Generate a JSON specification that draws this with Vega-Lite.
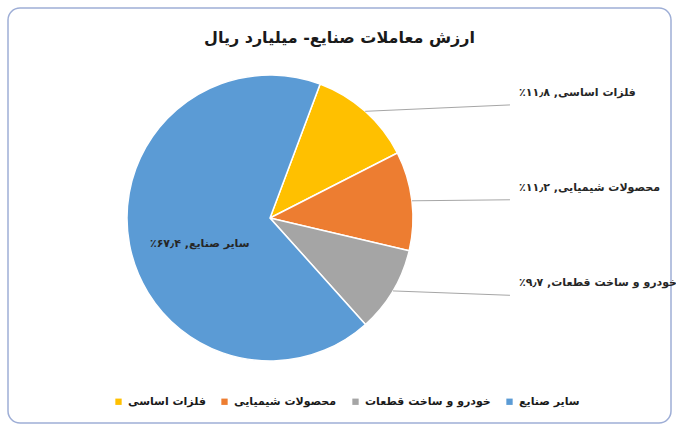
{
  "$schema": "https://vega.github.io/schema/vega-lite/v6.json",
  "width": 663,
  "height": 415,
  "padding": {"left": 8, "top": 8, "right": 5, "bottom": 6},
  "background": "white",
  "title": {
    "text": "ارزش معاملات صنایع- میلیارد ریال",
    "anchor": "middle",
    "baseline": "middle",
    "offset": -46,
    "font": "DejaVu Sans",
    "fontSize": 16,
    "fontWeight": "bold",
    "color": "#1a1a1a"
  },
  "data": {
    "values": [
      {"category": "فلزات اساسی", "value": 11.8, "rank": 1, "label": "فلزات اساسی, ۱۱٫۸٪‏"},
      {"category": "محصولات شیمیایی", "value": 11.2, "rank": 2, "label": "محصولات شیمیایی, ۱۱٫۲٪‏"},
      {"category": "خودرو و ساخت قطعات", "value": 9.7, "rank": 3, "label": "خودرو و ساخت قطعات, ۹٫۷٪‏"},
      {"category": "سایر صنایع", "value": 67.4, "rank": 4, "label": "سایر صنایع, ۶۷٫۴٪‏"}
    ]
  },
  "transform": [
    {"joinaggregate": [{"op": "sum", "field": "value", "as": "total"}]},
    {"window": [{"op": "sum", "field": "value", "as": "cum"}], "sort": [{"field": "rank"}], "frame": [null, 0]},
    {"calculate": "0.358 + 2 * PI * (datum.cum - datum.value / 2) / datum.total", "as": "mid"},
    {"calculate": "sin(datum.mid)", "as": "px"},
    {"calculate": "cos(datum.mid)", "as": "py"},
    {"calculate": "1.678", "as": "ex"},
    {"calculate": "datum.py * 1.06", "as": "ey"},
    {"calculate": "1.741", "as": "lx"},
    {"calculate": "datum.ey + 0.084", "as": "ly"}
  ],
  "encoding": {
    "x": {"type": "quantitative", "scale": {"domain": [-1.832, 2.804], "nice": false, "zero": false}, "axis": null},
    "y": {"type": "quantitative", "scale": {"domain": [-1.434, 1.469], "nice": false, "zero": false}, "axis": null}
  },
  "layer": [
    {
      "mark": {"type": "arc", "outerRadius": 143, "stroke": "white", "strokeWidth": 1.5},
      "encoding": {
        "x": {"datum": 0, "type": "quantitative"},
        "y": {"datum": 0, "type": "quantitative"},
        "theta": {"field": "value", "type": "quantitative", "stack": true, "scale": {"range": [0.358, 6.6412]}},
        "order": {"field": "rank", "type": "quantitative"},
        "color": {
          "field": "category",
          "type": "nominal",
          "scale": {
            "domain": ["فلزات اساسی", "محصولات شیمیایی", "خودرو و ساخت قطعات", "سایر صنایع"],
            "range": ["#ffc000", "#ed7d31", "#a5a5a5", "#5b9bd5"]
          },
          "legend": {
            "title": null,
            "orient": "none",
            "direction": "horizontal",
            "legendX": 105,
            "legendY": 388,
            "padding": 0,
            "symbolType": "square",
            "symbolSize": 40,
            "symbolStrokeWidth": 0,
            "labelFont": "DejaVu Sans",
            "labelFontSize": 11,
            "labelFontWeight": "bold",
            "labelColor": "#1a1a1a",
            "labelOffset": 4,
            "columnPadding": 13,
            "labelLimit": 300
          }
        }
      }
    },
    {
      "transform": [{"filter": "datum.value < 50"}],
      "mark": {"type": "rule", "color": "#a6a6a6", "strokeWidth": 1},
      "encoding": {
        "x": {"field": "px"},
        "y": {"field": "py"},
        "x2": {"field": "ex"},
        "y2": {"field": "ey"}
      }
    },
    {
      "transform": [{"filter": "datum.value < 50"}],
      "mark": {"type": "text", "align": "left", "baseline": "middle", "font": "DejaVu Sans", "fontSize": 11, "fontWeight": "bold", "color": "#262626"},
      "encoding": {
        "x": {"field": "lx"},
        "y": {"field": "ly"},
        "text": {"field": "label"}
      }
    },
    {
      "transform": [
        {"filter": "datum.value >= 50"},
        {"calculate": "datum.px * 0.5", "as": "ix"},
        {"calculate": "datum.py * 0.5", "as": "iy"}
      ],
      "mark": {"type": "text", "align": "center", "baseline": "middle", "dy": 13, "font": "DejaVu Sans", "fontSize": 11, "fontWeight": "bold", "color": "#262626"},
      "encoding": {
        "x": {"field": "ix"},
        "y": {"field": "iy"},
        "text": {"field": "label"}
      }
    }
  ],
  "config": {
    "view": {"stroke": "#9eaed6", "strokeWidth": 1.5, "cornerRadius": 12}
  }
}
